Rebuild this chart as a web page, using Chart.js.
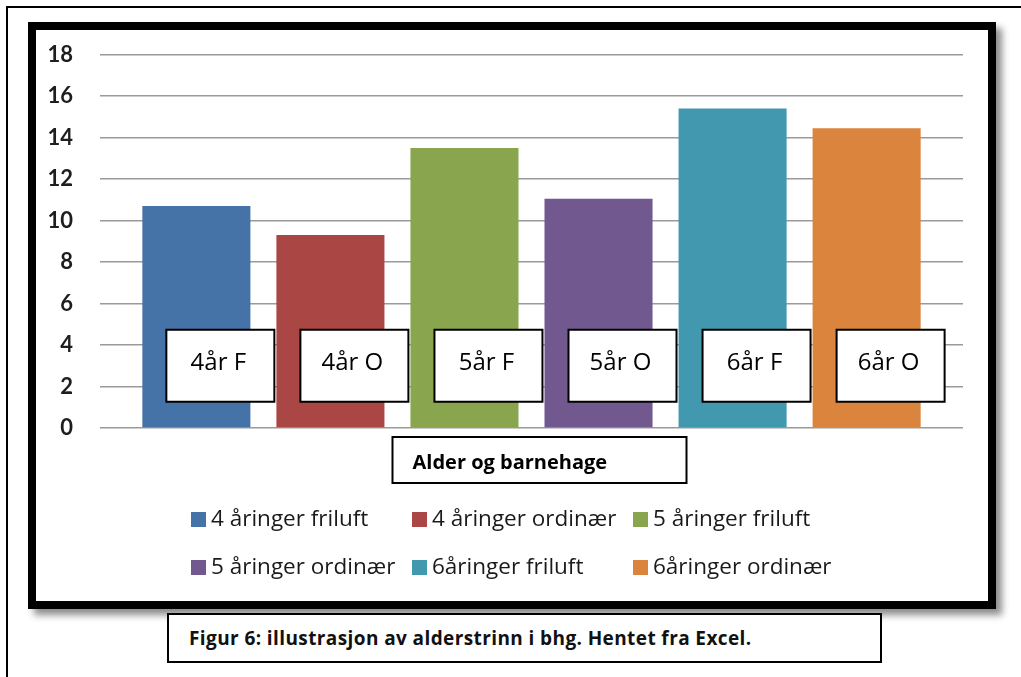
<!DOCTYPE html>
<html>
<head>
<meta charset="utf-8">
<script src="https://cdn.jsdelivr.net/npm/chart.js@4/dist/chart.umd.min.js"></script>
<style>
  body { margin: 0; background: #fff; width: 1021px; height: 677px; overflow: hidden; position: relative; }
  #outer { position: absolute; left: 6px; top: 6px; width: 1040px; height: 700px; border: 2px solid #000; }
  #frame { position: absolute; left: 28px; top: 22px; width: 952px; height: 571px; border: 8px solid #000;
           background: #fff; box-shadow: 6px 6px 7px rgba(0,0,0,0.45); }
  #wrap { position: relative; width: 952px; height: 571px; }
  #caption { position: absolute; left: 167px; top: 613px; width: 691px; height: 46px; border: 2px solid #000;
             background: #fff; font-family: "Open Sans", sans-serif; font-weight: bold; font-size: 19px; color: #111;
             letter-spacing: 0.4px; line-height: 46px; padding-left: 20px; box-sizing: content-box; white-space: nowrap; }
</style>
</head>
<body>
<div id="outer"></div>
<div id="frame"><div id="wrap"><canvas id="chart"></canvas></div></div>
<div id="caption">Figur 6: illustrasjon av alderstrinn i bhg. Hentet fra Excel.</div>
<script>
// data
const categories = [''];
const seriesNames = ['4 åringer friluft', '4 åringer ordinær', '5 åringer friluft',
                     '5 åringer ordinær', '6åringer friluft', '6åringer ordinær'];
const seriesValues = [10.7, 9.3, 13.5, 11.05, 15.4, 14.45];
const barLabels = ['4år F', '4år O', '5år F', '5år O', '6år F', '6år O'];
const seriesColors = ['#4572A7', '#AA4643', '#89A54E', '#71588F', '#4198AF', '#DB843D'];
const axisTitle = 'Alder og barnehage';
const yMin = 0, yMax = 18, yStep = 2;

// white boxes with the short names, the axis title box and the grid legend
const annotations = {
  id: 'annotations',
  afterDatasetsDraw(chart) {
    const ctx = chart.ctx;
    const y = chart.scales.y;
    const area = chart.chartArea;
    ctx.save();
    ctx.lineWidth = 2;
    ctx.strokeStyle = '#000';

    // label boxes on the bars
    chart.data.datasets.forEach((ds, i) => {
      const bar = chart.getDatasetMeta(i).data[0];
      const left = bar.x - bar.width / 2 + 24;
      const cy = y.getPixelForValue(3);
      ctx.fillStyle = '#fff';
      ctx.fillRect(left, cy - 36, 108, 72);
      ctx.strokeRect(left, cy - 36, 108, 72);
      ctx.fillStyle = '#000';
      ctx.font = '24px "Open Sans"';
      ctx.textAlign = 'center';
      ctx.textBaseline = 'alphabetic';
      ctx.fillText(barLabels[i], left + 52, cy + 4);
    });

    // axis title box
    const tx = (area.left + area.right) / 2 - 139;
    const ty = area.bottom + 9;
    ctx.fillStyle = '#fff';
    ctx.fillRect(tx, ty, 294, 46);
    ctx.strokeRect(tx, ty, 294, 46);
    ctx.fillStyle = '#000';
    ctx.font = 'bold 20px "Open Sans"';
    ctx.textAlign = 'left';
    ctx.fillText(axisTitle, tx + 20, ty + 32);

    // legend, 3 columns
    ctx.font = '22.5px "Open Sans"';
    ctx.textBaseline = 'middle';
    chart.data.datasets.forEach((ds, i) => {
      const lx = 155 + (i % 3) * 221;
      const ly = area.bottom + 92 + Math.floor(i / 3) * 48;
      ctx.fillStyle = ds.backgroundColor;
      ctx.fillRect(lx, ly - 8, 15, 15);
      ctx.fillStyle = '#1a1a1a';
      ctx.fillText(ds.label, lx + 20, ly);
    });
    ctx.restore();
  }
};

const ctx = document.getElementById('chart').getContext('2d');
new Chart(ctx, {
  type: 'bar',
  data: {
    labels: categories,
    datasets: seriesNames.map((name, i) => ({
      label: name,
      data: [seriesValues[i]],
      backgroundColor: seriesColors[i],
      categoryPercentage: 0.932,
      barPercentage: 0.806
    }))
  },
  options: {
    responsive: true,
    maintainAspectRatio: false,
    animation: false,
    layout: { padding: { left: 0, right: 25, top: 24.5, bottom: 173 } },
    plugins: {
      legend: { display: false },
      tooltip: { enabled: false }
    },
    scales: {
      x: { display: false },
      y: {
        min: yMin,
        max: yMax,
        border: { display: false },
        grid: { color: '#9a9a9a', lineWidth: 1.6, drawTicks: false },
        ticks: {
          stepSize: yStep,
          padding: 27,
          color: '#1e1e1e',
          font: { family: 'Lato', size: 22, weight: 'bold' }
        },
        afterFit(scale) {
          scale.width = 64;
          scale.paddingTop = 0;
          scale.paddingBottom = 0;
        }
      }
    }
  },
  plugins: [annotations]
});
</script>
</body>
</html>
